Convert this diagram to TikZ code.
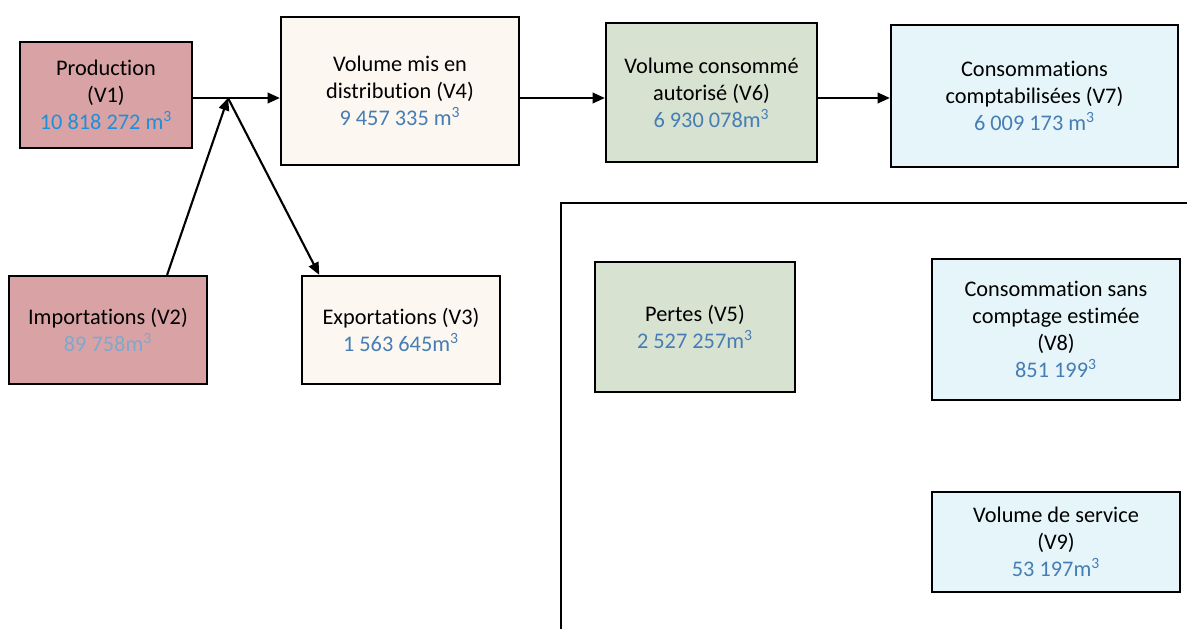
\documentclass[tikz,border=0pt]{standalone}
\usepackage{fontspec}
\setmainfont[Ligatures=NoCommon]{Carlito}
\definecolor{bilan_pink}{RGB}{217, 163, 166}
\definecolor{bilan_cream}{RGB}{252, 247, 240}
\definecolor{bilan_green}{RGB}{216, 226, 208}
\definecolor{bilan_cyan}{RGB}{230, 245, 250}
\definecolor{bilan_num}{RGB}{70, 125, 180}
\definecolor{bilan_bright}{RGB}{30, 143, 216}
\definecolor{bilan_pale}{RGB}{127, 168, 204}
\usetikzlibrary{arrows.meta, calc}

\begin{document}
\begin{tikzpicture}[
      x=0.02cm, y=-0.02cm,
      volbox/.style={rectangle, draw=black, line width=1.3pt, inner sep=0pt,
                     align=center, font=\fontsize{12.7}{15.3}\selectfont},
      src/.style={volbox, fill=bilan_pink},
      dist/.style={volbox, fill=bilan_cream},
      auth/.style={volbox, fill=bilan_green},
      cons/.style={volbox, fill=bilan_cyan},
      arr/.style={-{Triangle[length=7pt, width=6pt]}, line width=1.2pt, black},
    ]
      \useasboundingbox (0,0) rectangle (1187,629);

      \node[src]  (v1) at (106, 95) [minimum width=3.44cm, minimum height=2.12cm]
            {Production\\(V1)\\\textcolor{bilan_bright}{10 818 272 m\textsuperscript{3}}};
      \node[dist] (v4) at (400, 91) [minimum width=4.76cm, minimum height=2.96cm]
            {Volume mis en\\distribution (V4)\\\textcolor{bilan_num}{9 457 335 m\textsuperscript{3}}};
      \node[auth] (v6) at (711.5, 92.5) [minimum width=4.22cm, minimum height=2.78cm]
            {Volume consommé\\autorisé (V6)\\\textcolor{bilan_num}{6 930 078m\textsuperscript{3}}};
      \node[cons] (v7) at (1034.5, 96) [minimum width=5.74cm, minimum height=2.84cm]
            {Consommations\\comptabilisées (V7)\\\textcolor{bilan_num}{6 009 173 m\textsuperscript{3}}};

      \node[src]  (v2) at (108, 330) [minimum width=3.96cm, minimum height=2.16cm]
            {Importations (V2)\\\textcolor{bilan_pale}{89 758m\textsuperscript{3}}};
      \node[dist] (v3) at (401, 330) [minimum width=3.96cm, minimum height=2.16cm]
            {Exportations (V3)\\\textcolor{bilan_num}{1 563 645m\textsuperscript{3}}};

      \draw[line width=1.1pt] (561, 629) -- (561, 203) -- (1187, 203);

      \node[auth] (v5) at (695, 327) [minimum width=4.0cm, minimum height=2.6cm]
            {Pertes (V5)\\\textcolor{bilan_num}{2 527 257m\textsuperscript{3}}};
      \node[cons] (v8) at (1056, 329.5) [minimum width=4.96cm, minimum height=2.82cm]
            {Consommation sans\\comptage estimée\\(V8)\\\textcolor{bilan_num}{851 199\textsuperscript{3}}};
      \node[cons] (v9) at (1056, 542) [minimum width=4.96cm, minimum height=2.0cm]
            {Volume de service\\(V9)\\\textcolor{bilan_num}{53 197m\textsuperscript{3}}};

      \coordinate (jn) at (228, 98);

      \draw[arr] (v1.east |- jn) -- (v4.west |- jn);
      \draw[arr] (v2.43) -- (jn);
      \draw[arr] (jn) -- (v3.146);
      \draw[arr] (v4.east |- jn) -- (v6.west |- jn);
      \draw[arr] (v6.east |- jn) -- (v7.west |- jn);
    \end{tikzpicture}
\end{document}
